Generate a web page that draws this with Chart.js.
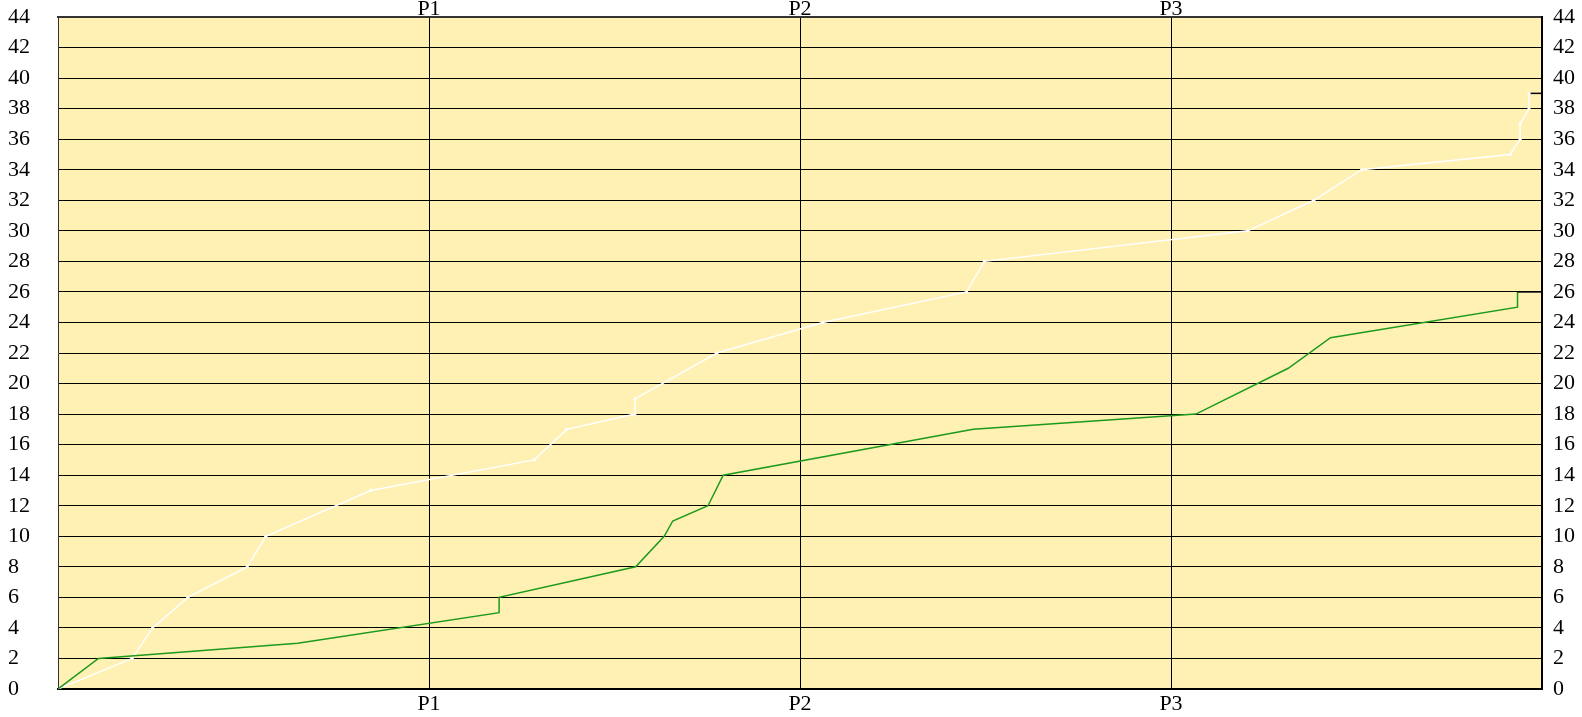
<!DOCTYPE html>
<html>
<head>
<meta charset="utf-8">
<script src="https://cdn.jsdelivr.net/npm/chart.js@4.4.0/dist/chart.umd.min.js"></script>
<style>
  html, body { margin: 0; padding: 0; background: #fff; }
  #contenitore { width: 1582px; height: 717px; }
</style>
</head>
<body>
<div id="contenitore"><canvas id="grafico"></canvas></div>
<script>
// posizioni e etichette asse x
var xTickPos = [1, 2, 3];
var xTickLabels = ['P1', 'P2', 'P3'];

// serie bianca
var whiteX = [0, 0.200, 0.255, 0.350, 0.510, 0.560, 0.843, 1.284, 1.371, 1.555, 1.555, 1.776, 2.061, 2.449, 2.497, 3.207, 3.385, 3.514, 3.914, 3.941, 3.941, 3.965, 3.965, 4];
var whiteY = [0, 2, 4, 6, 8, 10, 13, 15, 17, 18, 19, 22, 24, 26, 28, 30, 32, 34, 35, 36, 37, 38, 39, 39];

// serie verde
var greenX = [0, 0.109, 0.646, 1.189, 1.189, 1.557, 1.634, 1.657, 1.752, 1.793, 2.467, 3.067, 3.316, 3.430, 3.934, 3.934, 4];
var greenY = [0, 2, 3, 5, 6, 8, 10, 11, 12, 14, 17, 18, 21, 23, 25, 26, 26];

var yMin = 0, yMax = 44, yStep = 2;

function punti(xs, ys) {
    var out = [];
    for (var i = 0; i < xs.length; i++) {
        out.push({x: xs[i], y: ys[i]});
    }
    return out;
}

function etichettaX(v) {
    var i = xTickPos.indexOf(v);
    return i >= 0 ? xTickLabels[i] : '';
}

function tickX(scale) {
    scale.ticks = xTickPos.map(function(v){ return {value: v}; });
}

// niente padding extra dalle etichette
function larghezza(w) {
    return function(s) {
        s.width = w;
        s.paddingTop = 0;
        s.paddingBottom = 0;
    };
}

var fontTick = {family: 'Liberation Serif', size: 22};

var sfondo = {
    id: 'sfondo',
    beforeDraw: function(chart) {
        var a = chart.chartArea;
        var c = chart.ctx;
        c.save();
        c.fillStyle = '#fff0b4';
        c.fillRect(a.left, a.top, a.right - a.left, a.bottom - a.top);
        c.restore();
    }
};

var ctx = document.getElementById('grafico');
var chart = new Chart(ctx, {
    type: 'line',
    data: {
        datasets: [{
            label: 'verde',
            data: punti(greenX, greenY),
            borderColor: '#1c9a1c',
            borderWidth: 1.5,
            pointRadius: 0,
            tension: 0,
            segment: {
                borderColor: function(c) { return c.p1DataIndex === greenX.length - 1 ? '#000' : undefined; }
            }
        }, {
            label: 'bianco',
            data: punti(whiteX, whiteY),
            borderColor: '#ffffff',
            borderWidth: 1.5,
            pointRadius: function(c) { return c.dataIndex === 0 || c.dataIndex === whiteX.length - 1 ? 0 : 1.6; },
            pointBackgroundColor: '#ffffff',
            pointBorderWidth: 0,
            tension: 0,
            segment: {
                borderColor: function(c) { return c.p1DataIndex === whiteX.length - 1 ? '#000' : undefined; }
            }
        }]
    },
    options: {
        responsive: true,
        maintainAspectRatio: false,
        animation: false,
        layout: {padding: {left: 8, top: 0, right: 0, bottom: 0}},
        plugins: {legend: {display: false}, tooltip: {enabled: false}},
        scales: {
            x: {
                type: 'linear', position: 'bottom', min: 0, max: 4,
                afterBuildTicks: tickX,
                afterFit: function(s) { s.height = 28; },
                grid: {color: '#000', lineWidth: 1, drawTicks: false},
                border: {color: '#000', width: 2},
                ticks: {font: fontTick, color: '#000', padding: 2, maxRotation: 0, callback: etichettaX}
            },
            x2: {
                type: 'linear', position: 'top', min: 0, max: 4,
                afterBuildTicks: tickX,
                afterFit: function(s) { s.height = 17; },
                grid: {display: false, drawTicks: false},
                border: {color: '#333', width: 2},
                ticks: {font: fontTick, color: '#000', padding: -5, maxRotation: 0, callback: etichettaX,
                        showLabelBackdrop: true, backdropColor: '#fff', backdropPadding: {top: 0, bottom: -6, left: 2, right: 2}}
            },
            y: {
                type: 'linear', position: 'left', min: yMin, max: yMax,
                afterFit: larghezza(50),
                grid: {color: '#000', lineWidth: 1, drawTicks: false},
                border: {color: '#333', width: 1},
                ticks: {stepSize: yStep, font: fontTick, color: '#000', crossAlign: 'far', padding: 0}
            },
            y2: {
                type: 'linear', position: 'right', min: yMin, max: yMax,
                afterFit: larghezza(40),
                grid: {display: false, drawTicks: false},
                border: {color: '#000', width: 2},
                ticks: {stepSize: yStep, font: fontTick, color: '#000', padding: 11}
            }
        }
    },
    plugins: [sfondo]
});
</script>
</body>
</html>
